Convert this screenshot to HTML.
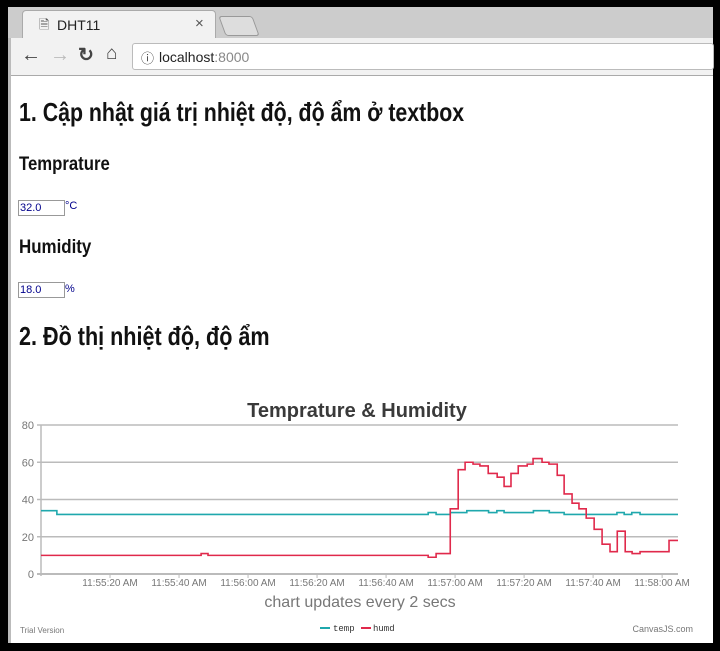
<!DOCTYPE html>
<html><head><meta charset="utf-8">
<style>
body{margin:0;width:720px;height:651px;background:#000;position:relative;overflow:hidden;font-family:"Liberation Sans",sans-serif}
.abs{position:absolute}
h1,h3{margin:0;font-family:"Liberation Sans Narrow","Liberation Sans",sans-serif;color:#111;font-weight:bold;position:absolute;transform-origin:0 50%;white-space:nowrap}
</style></head><body>
<div class="abs" style="left:8px;top:7px;width:705px;height:636px;background:#fff;border-left:3px solid #bbb;box-sizing:border-box"></div>
<div class="abs" style="left:8px;top:7px;width:705px;height:31px;background:#ccc"></div>
<div class="abs" style="left:22px;top:10px;width:194px;height:28px;background:#f2f2f2;border:1px solid #aaa;border-bottom:none;border-radius:4px 4px 0 0;box-sizing:border-box">
<span class="abs" style="left:16px;top:5px;font-size:13px;color:#555">&#128462;</span>
<span class="abs" style="left:34px;top:6px;font-size:14px;color:#222">DHT11</span>
<span class="abs" style="left:172px;top:4px;font-size:15px;color:#555">×</span></div>
<div class="abs" style="left:222px;top:16px;width:32px;height:18px;background:#ddd;border:1px solid #999;transform:skewX(20deg);border-radius:3px"></div>
<div class="abs" style="left:11px;top:38px;width:702px;height:37px;background:#f2f2f2;border-bottom:1px solid #aaa"></div>
<span class="abs" style="left:21px;top:44px;font-size:20px;color:#444">&#8592;</span>
<span class="abs" style="left:50px;top:44px;font-size:20px;color:#bbb">&#8594;</span>
<span class="abs" style="left:78px;top:44px;font-size:19px;color:#444;font-weight:bold">&#8635;</span>
<span class="abs" style="left:106px;top:43px;font-size:19px;color:#444">&#8962;</span>
<div class="abs" style="left:132px;top:43px;width:582px;height:27px;background:#fff;border:1px solid #bbb;border-radius:3px;box-sizing:border-box">
<span class="abs" style="left:8px;top:4px;font-size:13px;color:#444">&#9432;</span>
<span class="abs" style="left:26px;top:5px;font-size:14px;color:#222">localhost<span style="color:#888">:8000</span></span></div>

<h1 style="left:19px;top:97px;font-size:26px;transform:scaleX(0.82)">1. Cập nhật giá trị nhiệt độ, độ ẩm ở textbox</h1>
<h3 style="left:19px;top:154px;font-size:19px;transform:scaleX(0.88)">Temprature</h3>
<div class="abs" style="left:18px;top:200px;width:47px;height:16px;border:1px solid #999;box-sizing:border-box;font-size:11px;padding-left:1px;line-height:14px;color:#00008b">32.0</div>
<span class="abs" style="left:65px;top:200px;font-size:11px;color:#00008b">°C</span>
<h3 style="left:19px;top:237px;font-size:19px;transform:scaleX(0.89)">Humidity</h3>
<div class="abs" style="left:18px;top:282px;width:47px;height:16px;border:1px solid #999;box-sizing:border-box;font-size:11px;padding-left:1px;line-height:14px;color:#00008b">18.0</div>
<span class="abs" style="left:65px;top:283px;font-size:11px;color:#00008b">%</span>
<h1 style="left:19px;top:321px;font-size:26px;transform:scaleX(0.83)">2. Đồ thị nhiệt độ, độ ẩm</h1>

<svg class="abs" style="left:0;top:0" width="720" height="651" id="chart"></svg>
<script>
const yTicks=[0,20,40,60,80];
const xTickLabels=["11:55:20 AM","11:55:40 AM","11:56:00 AM","11:56:20 AM","11:56:40 AM","11:57:00 AM","11:57:20 AM","11:57:40 AM","11:58:00 AM"];
const xTickSeconds=[20,40,60,80,100,120,140,160,180];
const tempTimes=[0,4.6,112.2,114.5,118.6,123.4,129.7,132.1,134.2,142.7,147.3,151.6,166.9,169,171.2,173.6];
const tempValues=[34,32,33,32,33,34,33,34,33,34,33,32,33,32,33,32];
const humdTimes=[0,46.4,48.4,112.2,114.5,118.6,120.9,122.9,125.2,127.2,129.6,132.2,134.2,136.2,138.3,140.9,142.6,145.2,147.2,149.6,151.6,153.9,155.9,158,160.3,162.6,164.9,167,169.3,171.3,173.6,182];
const humdValues=[10,11,10,9,11,35,56,60,59,58,54,52,47,54,58,59,62,60,59,53,43,38,35,30,24,16,12,23,12,11,12,18];
const tEnd=184.6;
const X0=41,X1=678,Y0=574,Y1=425;
const xs=t=>X0+(t/tEnd)*(X1-X0);
const ys=v=>Y0-(v/80)*(Y0-Y1);
const svg=document.getElementById('chart');const NS='http://www.w3.org/2000/svg';
function mk(tag,attrs,text){const e=document.createElementNS(NS,tag);for(const k in attrs)e.setAttribute(k,attrs[k]);if(text!=null)e.textContent=text;svg.appendChild(e);return e;}
let e=mk('text',{x:357,y:417,'text-anchor':'middle','font-size':20,'font-weight':'bold',fill:'#3a3a3a','font-family':'Liberation Sans'},'Temprature & Humidity');


yTicks.forEach(v=>{
 const g=mk('line',{x1:X0-4,x2:X1,y1:ys(v),y2:ys(v),stroke:'#bbb','stroke-width':v===0?2:1.5});
 
 
 const t=mk('text',{x:34,y:ys(v)+4,'text-anchor':'end','font-size':11,fill:'#777'},v);
 
 
});
e=mk('line',{x1:X0,x2:X0,y1:Y1,y2:Y0+2,stroke:'#bbb','stroke-width':1.5});


xTickLabels.forEach((l,i)=>{
 const x=xs(xTickSeconds[i]);
 const tk=mk('line',{x1:x,x2:x,y1:Y0,y2:Y0+4,stroke:'#bbb'});
 
 
 const t=mk('text',{x:x,y:586,'text-anchor':'middle','font-size':10,fill:'#777'},l);
 
 
});
function stepPath(times,vals){let d='';for(let i=0;i<times.length;i++){const x=xs(times[i]),y=ys(vals[i]);d+=(i?'L'+x+' '+ys(vals[i-1])+' ':'M'+x+' '+y+' ')+'L'+x+' '+y+' ';}d+='L'+xs(tEnd)+' '+ys(vals[vals.length-1]);return d;}
e=mk('path',{d:stepPath(tempTimes,tempValues),fill:'none',stroke:'#1fa8ad','stroke-width':1.6});


e=mk('path',{d:stepPath(humdTimes,humdValues),fill:'none',stroke:'#e0294b','stroke-width':1.6});


e=mk('text',{x:360,y:607,'text-anchor':'middle','font-size':16,fill:'#777'},'chart updates every 2 secs');


e=mk('line',{x1:320,x2:330,y1:628,y2:628,stroke:'#1fa8ad','stroke-width':2});


e=mk('text',{x:333,y:631,'font-size':9,fill:'#333','font-family':'Liberation Mono'},'temp');


e=mk('line',{x1:361,x2:371,y1:628,y2:628,stroke:'#e0294b','stroke-width':2});


e=mk('text',{x:373,y:631,'font-size':9,fill:'#333','font-family':'Liberation Mono'},'humd');


e=mk('text',{x:20,y:633,'font-size':8,fill:'#777'},'Trial Version');


e=mk('text',{x:693,y:632,'text-anchor':'end','font-size':9,fill:'#777'},'CanvasJS.com');


</script>
</body></html>
